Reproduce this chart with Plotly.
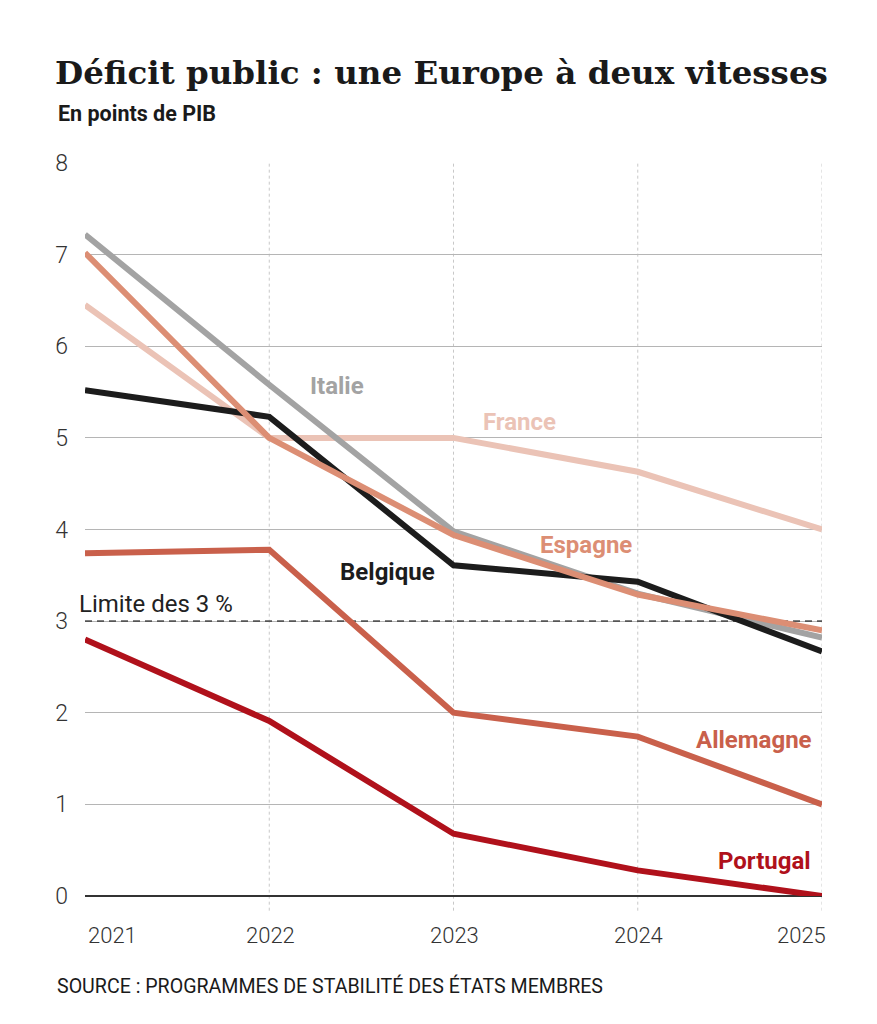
import plotly.graph_objects as go

years = [2021, 2022, 2023, 2024, 2025]
year_labels = ["2021", "2022", "2023", "2024", "2025"]
italie = [7.22, 5.58, 3.98, 3.30, 2.82]
france = [6.45, 5.0, 5.0, 4.63, 4.0]
espagne = [7.02, 5.0, 3.94, 3.29, 2.9]
belgique = [5.52, 5.23, 3.61, 3.43, 2.67]
allemagne = [3.74, 3.78, 2.0, 1.74, 1.0]
portugal = [2.8, 1.91, 0.68, 0.28, 0.0]

series = [
    ("France", france, "#ebc3b6"),
    ("Italie", italie, "#a3a3a3"),
    ("Belgique", belgique, "#1c1c1c"),
    ("Espagne", espagne, "#dc8e74"),
    ("Allemagne", allemagne, "#c9604b"),
    ("Portugal", portugal, "#b0111b"),
]

labels = [
    ("Italie", 2022.37, 5.57, "#a3a3a3"),
    ("France", 2023.36, 5.17, "#ebc3b6"),
    ("Espagne", 2023.72, 3.83, "#dc8e74"),
    ("Belgique", 2022.64, 3.54, "#1c1c1c"),
    ("Allemagne", 2024.63, 1.70, "#c9604b"),
    ("Portugal", 2024.69, 0.38, "#b0111b"),
]

limit_value = 3
limit_text = "Limite des 3 %"

L, R, T, B = 85, 55, 163, 128
PH = 1024 - T - B

fig = go.Figure()

# vertical dotted year lines
for yr in years[1:]:
    fig.add_shape(type="line", xref="x", yref="paper", x0=yr, x1=yr, y0=-0.02, y1=1,
                  line=dict(color="#c8c8c8", width=1, dash="dot"), layer="between")

# dashed 3% line
fig.add_shape(type="line", xref="x", yref="y", x0=years[0], x1=years[-1], y0=limit_value, y1=limit_value,
              line=dict(color="#555555", width=1.8, dash="7px,5px"), layer="between")

for name, vals, col in series:
    fig.add_trace(go.Scatter(x=years, y=vals, mode="lines", name=name,
                             line=dict(color=col, width=6), cliponaxis=False))

for text, x, y, col in labels:
    fig.add_annotation(x=x, y=y, text=f"<b>{text}</b>", showarrow=False,
                       font=dict(family="Roboto", size=24, color=col), xanchor="center", yanchor="middle")

fig.add_annotation(x=years[0], y=limit_value, text=limit_text, showarrow=False, xanchor="left", yanchor="bottom",
                   xshift=-8, yshift=1, font=dict(family="Roboto", size=24, color="#222222"))

# x tick labels (first left-aligned, last right-aligned)
for i, (yr, lab) in enumerate(zip(years, year_labels)):
    if i == 0:
        xa, xs = "left", 1
    elif i == len(years) - 1:
        xa, xs = "right", 6
    else:
        xa, xs = "center", 1
    fig.add_annotation(x=yr, xref="x", yref="paper", y=-(936 - 896) / PH, text=lab, showarrow=False,
                       xanchor=xa, yanchor="middle", xshift=xs,
                       font=dict(family="Roboto", size=22, color="#333333", weight=300))

fig.update_layout(
    width=877, height=1024,
    margin=dict(l=L, r=R, t=T, b=B),
    paper_bgcolor="white", plot_bgcolor="white",
    showlegend=False,
    title=dict(text="<b>Déficit public : une Europe à deux vitesses</b>", x=55 / 877, xref="container",
               xanchor="left", y=1 - 73 / 1024, yref="container", yanchor="middle",
               font=dict(family="DejaVu Serif", size=32.5, color="#1a1a1a")),
    xaxis=dict(range=[2021, 2025], tickvals=years, showticklabels=False,
               showgrid=False, zeroline=False, showline=False, ticks=""),
    yaxis=dict(range=[0, 8], tickvals=list(range(0, 9)), showgrid=True, gridcolor="#b5b5b5", gridwidth=1,
               zeroline=True, zerolinecolor="#333333", zerolinewidth=2, showline=False, ticks="",
               tickfont=dict(family="Roboto", size=23, color="#333333", weight=300), ticklabelstandoff=16),
)

fig.add_annotation(xref="paper", yref="paper", x=(56 - L) / 737, y=1 + (T - 114) / PH,
                   text="<b>En points de PIB</b>", showarrow=False, xanchor="left", yanchor="middle",
                   font=dict(family="Roboto", size=21.5, color="#1a1a1a"))
fig.add_annotation(xref="paper", yref="paper", x=(55 - L) / 737, y=-(986 - 896) / PH,
                   text="SOURCE : PROGRAMMES DE STABILITÉ DES ÉTATS MEMBRES", showarrow=False,
                   xanchor="left", yanchor="middle",
                   font=dict(family="Roboto", size=19.6, color="#1a1a1a"))

fig.write_html("out.html")
